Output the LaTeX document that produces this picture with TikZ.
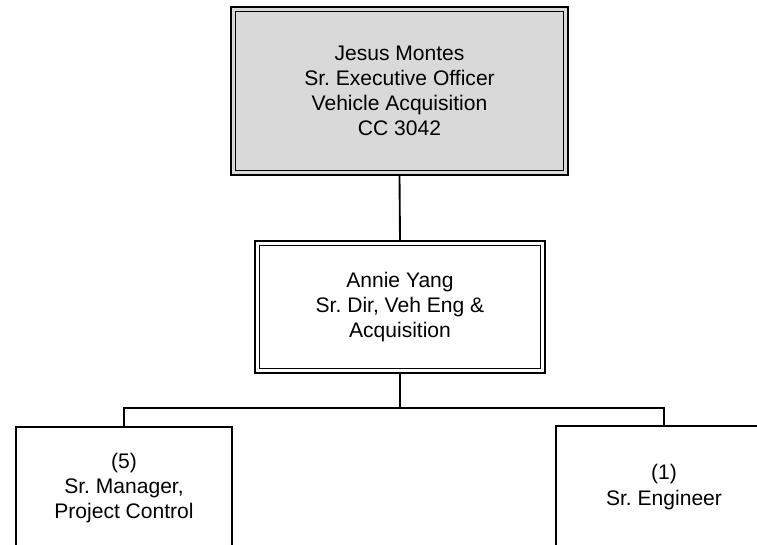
\documentclass[tikz,border=0pt]{standalone}
\usepackage{fontspec}
\setmainfont{Liberation Sans}
\definecolor{boxgray}{RGB}{217,217,217}
\frenchspacing
\begin{document}
\begin{tikzpicture}[x=0.75pt,y=-0.75pt,
  txt/.style={font=\fontsize{15.8pt}{18.9pt}\selectfont, align=center, inner sep=0pt},
  orgbox/.style={txt, draw=black, line width=1.5pt, rectangle},
  innerframe/.style={draw=black, line width=0.95pt},
  link/.style={draw=black, line width=1.4pt}]
\useasboundingbox (0,0) rectangle (757,545);
\clip (0,0) rectangle (757,545);
% top box
\node[orgbox, fill=boxgray, minimum width=252.75pt, minimum height=126pt] (top) at (399.5,91)
  {Jesus Montes\\Sr. Executive Officer\\Vehicle Acquisition\\CC 3042};
\draw[innerframe] ([xshift=3.9pt,yshift=-3.9pt]top.north west) rectangle ([xshift=-3.9pt,yshift=3.9pt]top.south east);
% middle box
\node[orgbox, fill=white, minimum width=217.5pt, minimum height=99pt] (mid) at (400,307)
  {Annie Yang\\Sr. Dir, Veh Eng \&\\Acquisition};
\draw[innerframe] ([xshift=3.9pt,yshift=-3.9pt]mid.north west) rectangle ([xshift=-3.9pt,yshift=3.9pt]mid.south east);
% bottom boxes (cut off by the frame)
\node[orgbox, fill=white, minimum width=162pt, minimum height=91.5pt] (left) at (124,488)
  {(5)\\Sr. Manager,\\Project Control};
\node[orgbox, fill=white, minimum width=162pt, minimum height=91.5pt] (right) at (664,487)
  {(1)\\Sr. Engineer};
% connectors
\draw[link] (top.south) -- (mid.north);
\coordinate (bus) at (400,408);
\draw[link] (mid.south) -- (bus);
\draw[link] (bus) -| (left.north);
\draw[link] (bus) -| (right.north);
\end{tikzpicture}
\end{document}
